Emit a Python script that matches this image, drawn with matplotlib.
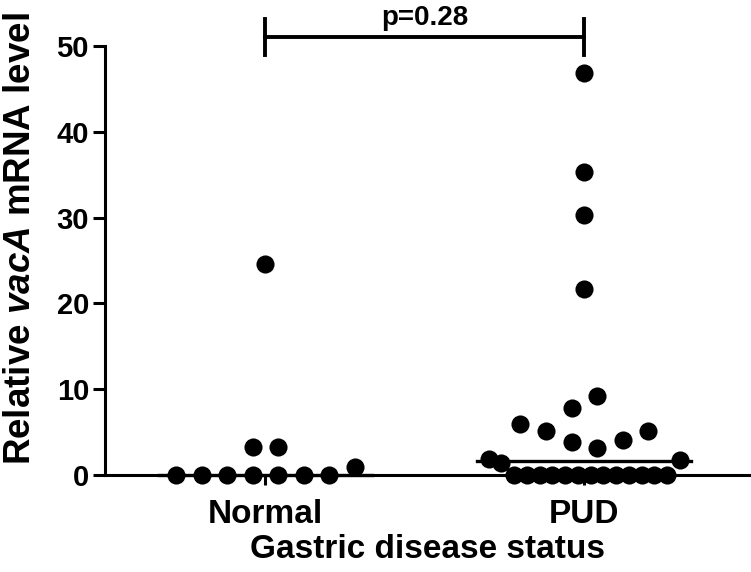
import numpy as np
import matplotlib
matplotlib.use('Agg')
import matplotlib.pyplot as plt

plt.rcParams['font.family'] = ['Liberation Sans', 'DejaVu Sans']
plt.rcParams['font.weight'] = 'bold'
plt.rcParams['mathtext.fontset'] = 'custom'
plt.rcParams['mathtext.rm'] = 'Liberation Sans:bold'
plt.rcParams['mathtext.it'] = 'Liberation Sans:bold:italic'

# Data, in the order they appear left to right per row
groups = ['Normal', 'PUD']
normal = [0, 0, 0, 0, 0, 0, 0, 0.9, 3.3, 3.3, 24.6]
pud = [1.9, 1.4, 0, 0, 0, 0, 0, 0, 0, 0, 0, 0, 0, 0, 0, 1.8,
       6.0, 5.1, 3.8, 3.2, 4.1, 5.1, 7.8, 9.2, 21.7, 30.3, 35.3, 46.8]
p_text = 'p=0.28'


def column_layout(vals, row_tol=3.0, step=0.08, max_width=0.6):
    # group values into rows (GraphPad-like column scatter), spread each row
    order = sorted(range(len(vals)), key=lambda i: vals[i])
    rows = []
    for i in order:
        if rows and vals[i] - vals[rows[-1][0]] < row_tol:
            rows[-1].append(i)
        else:
            rows.append([i])
    offs = np.zeros(len(vals))
    for r in rows:
        r = sorted(r)  # keep data order inside a row
        n = len(r)
        s = step if n < 2 else min(step, max_width / (n - 1))
        for k, i in enumerate(r):
            offs[i] = (k - (n - 1) / 2) * s
    return offs


fig = plt.figure(figsize=(7.51, 5.72), dpi=100)
ax = fig.add_axes([0.1398, 0.1696, 0.859, 0.75])

for xi, vals in enumerate([normal, pud]):
    vals = np.array(vals)
    xs = xi + column_layout(list(vals))
    ax.scatter(xs, vals, s=170, color='black', zorder=3, clip_on=False, linewidths=0)
    med = np.median(vals)
    ax.plot([xi - 0.335, xi + 0.335], [med, med], color='black', lw=2.4, zorder=4,
            clip_on=False)

# significance bracket
ax.plot([0, 1], [51.0, 51.0], color='black', lw=2.8, clip_on=False)
ax.plot([0, 0], [48.9, 53.2], color='black', lw=2.8, clip_on=False)
ax.plot([1, 1], [48.9, 53.2], color='black', lw=2.8, clip_on=False)
ax.text(0.5, 51.8, p_text, ha='center', va='bottom', fontsize=20, fontweight='bold')

ax.set_xlim(-0.503, 1.52)
ax.set_ylim(0, 50)
ax.set_yticks([0, 10, 20, 30, 40, 50])
ax.set_xticks([0, 1])
ax.set_xticklabels(groups, fontsize=24, fontweight='bold')
ax.tick_params(axis='y', labelsize=21, width=2.2, length=8.5, direction='out', pad=3)
ax.tick_params(axis='x', width=2.2, length=7, direction='out', pad=10)
for lab in ax.get_yticklabels():
    lab.set_fontweight('bold')

ax.spines['top'].set_visible(False)
ax.spines['right'].set_visible(False)
ax.spines['left'].set_linewidth(2.2)
ax.spines['bottom'].set_linewidth(2.2)

ax.set_ylabel(r'Relative $\mathit{vacA}$ mRNA level', fontsize=26.5, fontweight='bold')
ax.yaxis.set_label_coords(-0.104, 0.552)
ax.set_xlabel('Gastric disease status', fontsize=24, fontweight='bold', labelpad=3)

fig.savefig('out.png', dpi=100)
